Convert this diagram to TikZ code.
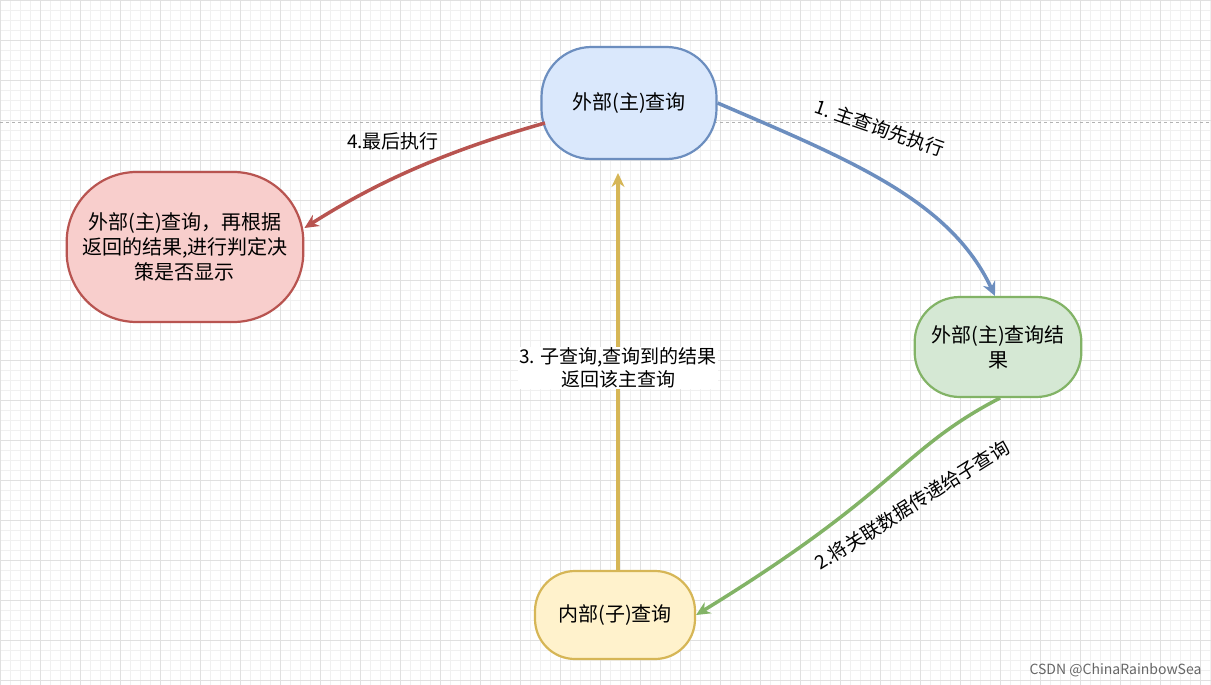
\documentclass[tikz,border=0pt]{standalone}
\usepackage{fontspec}
\setmainfont{Noto Sans CJK SC}
\usetikzlibrary{arrows.meta}
\definecolor{blueF}{HTML}{DAE8FC}\definecolor{blueD}{HTML}{6C8EBF}
\definecolor{redF}{HTML}{F8CECC}\definecolor{redD}{HTML}{B85450}
\definecolor{greenF}{HTML}{D5E8D4}\definecolor{greenD}{HTML}{82B366}
\definecolor{yellowF}{HTML}{FFF2CC}\definecolor{yellowD}{HTML}{D6B656}
\tikzset{
  stadium/.style={draw,line width=2.2pt,align=center,font=\fontsize{20}{25}\selectfont},
  flow/.style={line width=3.5pt,-{Stealth[length=14pt,width=13pt]}},
  lbl/.style={font=\fontsize{19}{23}\selectfont,align=center}
}
\begin{document}
\begin{tikzpicture}[x=1pt,y=-1pt]
  \useasboundingbox (0,0) rectangle (1211,685);
  \fill[white] (0,0) rectangle (1211,685);
  \draw[black!6,step=10pt] (0,0) grid (1211,685);
  \draw[black!12,step=40pt] (0,0) grid (1211,685);
  \draw[black!30,dashed] (0,122) -- (1211,122);
  % nodes
  \node[stadium,fill=blueF,draw=blueD,minimum width=175pt,minimum height=112pt,rounded corners=50pt](Main) at(629,103){外部(主)查询};
  \node[stadium,fill=redF,draw=redD,minimum width=235pt,minimum height=150pt,rounded corners=70pt,text width=230pt](Final) at(185,247){外部(主)查询，再根据\\返回的结果,进行判定决\\策是否显示};
  \node[stadium,fill=greenF,draw=greenD,minimum width=162pt,minimum height=100pt,rounded corners=45pt,text width=160pt](Res) at(998,347){外部(主)查询结\\果};
  \node[stadium,fill=yellowF,draw=yellowD,minimum width=160pt,minimum height=88pt,rounded corners=40pt](Sub) at(615,615){内部(子)查询};
  \coordinate (SubTop) at (618,571);
  \coordinate (MainBot) at (618,173);
  % connectors
  \draw[flow,draw=blueD](Main.east) .. controls (850,160) and (950,200) .. (995,296);
  \draw[flow,draw=greenD](1000,398) .. controls (900,450) and (900,490) .. (Sub.east);
  \draw[flow,draw=yellowD](SubTop) -- (MainBot);
  \draw[flow,draw=redD](545,123) .. controls (450,150) and (380,180) .. (Final.east|-0,228);
  % labels
  \node[lbl,rotate=-19](L1) at(880,128){1. 主查询先执行};
  \node[lbl,rotate=32](L2) at(912,505){2.将关联数据传递给子查询};
  \node[lbl,fill=white,inner sep=1pt](L3) at(618,368){3. 子查询,查询到的结果\\返回该主查询};
  \node[lbl](L4) at(393,141){4.最后执行};
  \node[font=\fontsize{14}{16}\selectfont,text=black!60,anchor=south east](Mark) at(1205,680){CSDN @ChinaRainbowSea};
\end{tikzpicture}
\end{document}
